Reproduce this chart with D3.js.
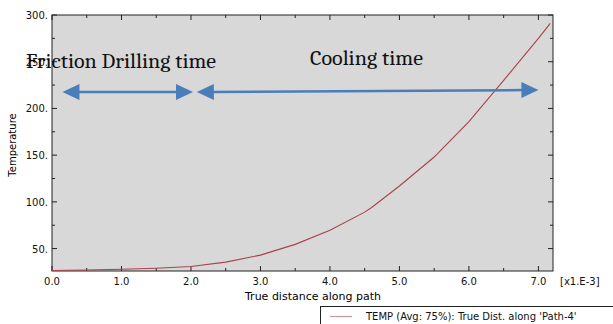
<!DOCTYPE html>
<html>
<head>
<meta charset="utf-8">
<script src="https://cdn.jsdelivr.net/npm/d3@7"></script>
<style>
  html, body { margin: 0; padding: 0; background: #fff; }
  svg { display: block; }
</style>
</head>
<body>
<svg id="chart" width="613" height="324"></svg>
<script>
// Temperature along the path (distance in units of 1e-3)
const distance = [0.0, 0.5, 1.0, 1.5, 2.0, 2.5, 3.0, 3.5, 4.0, 4.5, 4.6, 5.0, 5.5, 6.0, 6.5, 7.0, 7.17];
const temperature = [26.5, 27, 27.8, 29, 30.8, 35.5, 43, 54.5, 69.5, 89, 94, 117, 148, 186, 230, 275, 291];

const xTicks = [0, 1, 2, 3, 4, 5, 6, 7];
const yTicks = [50, 100, 150, 200, 250, 300];

const phaseLabels = ["Friction Drilling time", "Cooling time"];
const phaseSpans = [[0.15, 2.0], [2.07, 7.0]];

const legendLabel = "TEMP (Avg: 75%): True Dist. along 'Path-4'";

const svg = d3.select("#chart");
const plotLeft = 52, plotRight = 553, plotTop = 15, plotBottom = 271;

const x = d3.scaleLinear().domain([0, 7.21]).range([plotLeft, plotRight]);
const y = d3.scaleLinear().domain([26, 300]).range([plotBottom, plotTop]);

const uiFont = "'DejaVu Sans', Verdana, sans-serif";

// plot background
svg.append("rect")
  .attr("x", plotLeft).attr("y", plotTop)
  .attr("width", plotRight - plotLeft).attr("height", plotBottom - plotTop)
  .attr("fill", "#d8d8d8");

// frame
svg.append("rect")
  .attr("x", plotLeft).attr("y", plotTop)
  .attr("width", plotRight - plotLeft).attr("height", plotBottom - plotTop)
  .attr("fill", "none").attr("stroke", "#222").attr("stroke-width", 1);

const xMinor = d3.range(0, 7.21, 0.5);
const yMinor = d3.range(50, 301, 25);

// inward ticks on all four sides
const tickG = svg.append("g").attr("stroke", "#222").attr("stroke-width", 1);
xMinor.forEach(v => {
  const major = Math.abs(v - Math.round(v)) < 1e-6;
  const len = major ? 5 : 3;
  tickG.append("line").attr("x1", x(v)).attr("x2", x(v)).attr("y1", plotBottom).attr("y2", plotBottom - len);
  tickG.append("line").attr("x1", x(v)).attr("x2", x(v)).attr("y1", plotTop).attr("y2", plotTop + len);
});
yMinor.forEach(v => {
  const major = v % 50 === 0;
  const len = major ? 5 : 3;
  tickG.append("line").attr("y1", y(v)).attr("y2", y(v)).attr("x1", plotLeft).attr("x2", plotLeft + len);
  tickG.append("line").attr("y1", y(v)).attr("y2", y(v)).attr("x1", plotRight).attr("x2", plotRight - len);
});

// tick labels
svg.append("g").selectAll("text").data(xTicks).join("text")
  .attr("x", d => x(d)).attr("y", plotBottom + 14)
  .attr("text-anchor", "middle")
  .attr("font-family", uiFont).attr("font-size", 10).attr("fill", "#111")
  .text(d => d3.format(".1f")(d));

svg.append("g").selectAll("text").data(yTicks).join("text")
  .attr("x", plotLeft - 4).attr("y", d => y(d) + 4)
  .attr("text-anchor", "end")
  .attr("font-family", uiFont).attr("font-size", 10).attr("fill", "#111")
  .text(d => d + ".");

svg.append("text")
  .attr("x", 560).attr("y", plotBottom + 14)
  .attr("font-family", uiFont).attr("font-size", 10).attr("fill", "#111")
  .text("[x1.E-3]");

// axis titles
svg.append("text")
  .attr("x", 313).attr("y", 300)
  .attr("text-anchor", "middle")
  .attr("font-family", uiFont).attr("font-size", 11).attr("fill", "#000")
  .text("True distance along path");

svg.append("text")
  .attr("transform", "translate(16,145) rotate(-90)")
  .attr("text-anchor", "middle")
  .attr("font-family", uiFont).attr("font-size", 10).attr("fill", "#000")
  .text("Temperature");

// temperature curve
const line = d3.line().x((d, i) => x(distance[i])).y(d => y(d));
svg.append("path")
  .datum(temperature)
  .attr("d", line)
  .attr("fill", "none")
  .attr("stroke", "#a8424c")
  .attr("stroke-width", 1.1);

// phase annotations
const serif = "Cambria, 'Liberation Serif', 'DejaVu Serif', serif";
svg.append("text")
  .attr("x", 26).attr("y", 68)
  .attr("font-family", serif).attr("font-size", 21).attr("fill", "#111")
  .attr("textLength", 190).attr("lengthAdjust", "spacingAndGlyphs")
  .text(phaseLabels[0]);
svg.append("text")
  .attr("x", 310).attr("y", 65)
  .attr("font-family", serif).attr("font-size", 21).attr("fill", "#111")
  .attr("textLength", 113).attr("lengthAdjust", "spacingAndGlyphs")
  .text(phaseLabels[1]);

// double-headed arrows
const arrowColor = "#4a7ebb";
function arrow(x1, y1, x2, y2) {
  const g = svg.append("g");
  const hl = 17, hw = 8;
  const ang = Math.atan2(y2 - y1, x2 - x1);
  const c = Math.cos(ang), s = Math.sin(ang);
  g.append("line")
    .attr("x1", x1 + c * hl * 0.8).attr("y1", y1 + s * hl * 0.8)
    .attr("x2", x2 - c * hl * 0.8).attr("y2", y2 - s * hl * 0.8)
    .attr("stroke", arrowColor).attr("stroke-width", 2.5);
  const head = (tx, ty, dir) => {
    const bx = tx - dir * c * hl, by = ty - dir * s * hl;
    const pts = [[tx, ty], [bx - s * hw, by + c * hw], [bx + s * hw, by - c * hw]];
    g.append("polygon").attr("points", pts.map(p => p.join(",")).join(" "))
      .attr("fill", arrowColor);
  };
  head(x2, y2, 1);
  head(x1, y1, -1);
}
arrow(x(phaseSpans[0][0]), 92, x(phaseSpans[0][1]) + 2, 92);
arrow(x(phaseSpans[1][0]) + 1, 92, x(phaseSpans[1][1]), 90);

// legend
svg.append("rect")
  .attr("x", 320.5).attr("y", 306.5)
  .attr("width", 300).attr("height", 30)
  .attr("fill", "#fff").attr("stroke", "#222").attr("stroke-width", 1);
svg.append("line")
  .attr("x1", 330).attr("x2", 352).attr("y1", 316.5).attr("y2", 316.5)
  .attr("stroke", "#c89a9e").attr("stroke-width", 1.2);
svg.append("text")
  .attr("x", 366).attr("y", 320)
  .attr("font-family", uiFont).attr("font-size", 10).attr("fill", "#111")
  .text(legendLabel);
</script>
</body>
</html>
